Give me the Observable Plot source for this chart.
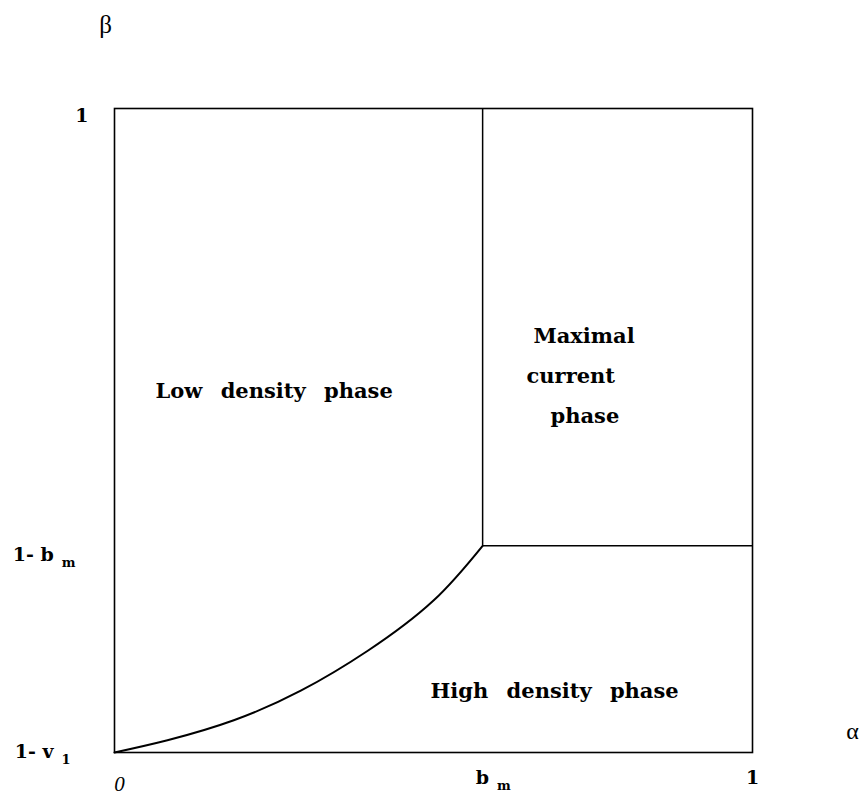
<!DOCTYPE html>
<html><head><meta charset="utf-8">
<script src="https://cdn.jsdelivr.net/npm/d3@7"></script>
<script src="https://cdn.jsdelivr.net/npm/@observablehq/plot@0.6"></script>
<style>
body{margin:0;background:#fff}
#chart svg{display:block}
g[aria-label='text'] text{word-spacing:11px}
</style>
</head><body><div id="chart"></div>
<script>
// Axis ticks (normalized α from 0 to 1, β from 1-v1 to 1)
const xTicks = [0, 0.577, 1];
const xTickLabels = ["0", "b_m", "1"];
const yTicks = [0, 0.321, 1];
const yTickLabels = ["1- v_1", "1- b_m", "1"];
// Boundary curve between low and high density phases
const curveAlpha = [0, 0.083, 0.187, 0.292, 0.397, 0.500, 0.577];
const curveBeta  = [0, 0.019, 0.050, 0.096, 0.158, 0.236, 0.321];
const phaseNames = ["Low density phase", "Maximal", "current", "phase", "High density phase"];
const axisNames = ["α", "β"];

const bm = xTicks[1], oneMinusBm = yTicks[1];
const curve = curveAlpha.map((a, i) => ({a, b: curveBeta[i]}));
const serif = "DejaVu Serif";
const lbl = {textAnchor: "start", lineAnchor: "bottom", fontSize: 21, fontWeight: "bold", fontFamily: serif, fill: "black"};

const plot = Plot.plot({
  width: 865, height: 797,
  marginLeft: 114, marginRight: 113, marginTop: 108, marginBottom: 45,
  x: {domain: [0, 1]},
  y: {domain: [0, 1]},
  style: {fontFamily: serif, background: "white", color: "black", overflow: "visible"},
  marks: [
    Plot.frame({stroke: "black", strokeWidth: 1.6}),
    Plot.ruleX([bm], {y1: oneMinusBm, y2: 1, stroke: "black", strokeWidth: 1.5}),
    Plot.ruleY([oneMinusBm], {x1: bm, x2: 1, stroke: "black", strokeWidth: 1.6}),
    Plot.line(curve, {x: "a", y: "b", curve: "natural", stroke: "black", strokeWidth: 2}),
    Plot.axisX({ticks: xTicks, tickFormat: d => xTickLabels[xTicks.indexOf(d)], tickSize: 0, tickPadding: 18,
      fontSize: 19, fontWeight: "bold", fontFamily: serif, fill: "black", label: null}),
    Plot.axisY({ticks: yTicks, tickFormat: d => yTickLabels[yTicks.indexOf(d)], tickSize: 0, tickPadding: 26,
      fontSize: 19, fontWeight: "bold", fontFamily: serif, fill: "black", label: null}),
    Plot.text([phaseNames[0]], {...lbl, x: 0.0643, y: 0.5512, text: d => d}),
    Plot.text([phaseNames[1]], {...lbl, x: 0.6567, y: 0.6351, text: d => d}),
    Plot.text([phaseNames[2]], {...lbl, x: 0.6458, y: 0.5730, text: d => d}),
    Plot.text([phaseNames[3]], {...lbl, x: 0.6834, y: 0.5124, text: d => d}),
    Plot.text([phaseNames[4]], {...lbl, x: 0.4953, y: 0.0854, text: d => d}),
    Plot.text([axisNames[1]], {x: -0.0141, y: 1.1165, text: d => d, textAnchor: "middle", lineAnchor: "bottom",
      fontSize: 25, fontFamily: "Liberation Serif", fill: "black"}),
    Plot.text([axisNames[0]], {x: 1.1567, y: 0.0217, text: d => d, textAnchor: "middle", lineAnchor: "bottom",
      fontSize: 24, fontFamily: "Liberation Serif", fill: "black"})
  ]
});
document.getElementById("chart").appendChild(plot);

// Subscripts and fine label placement
function subscript(el, dxSub, dySub) {
  const t = el.textContent;
  if (!t.includes("_")) return;
  const [base, sub] = t.split("_");
  el.textContent = base;
  const ts = document.createElementNS("http://www.w3.org/2000/svg", "tspan");
  ts.textContent = sub;
  ts.setAttribute("font-size", "13");
  ts.setAttribute("dx", dxSub);
  ts.setAttribute("dy", dySub);
  el.appendChild(ts);
}
const svg = d3.select(plot);
const yAdj = {"1": [0, 7], "1- b_m": [-13, 9], "1- v_1": [-18, -1]};
svg.selectAll("g[aria-label='y-axis tick label'] text").each(function() {
  const t = this.textContent;
  const [dx, dy] = yAdj[t] || [0, 0];
  this.setAttribute("transform", (this.getAttribute("transform") || "") + ` translate(${dx},${dy})`);
  subscript(this, 8, 6);
});
svg.selectAll("g[aria-label='x-axis tick label'] text").each(function() {
  const t = this.textContent;
  if (t === "0") {
    this.setAttribute("font-style", "italic");
    this.setAttribute("font-weight", "normal");
    this.setAttribute("font-family", "Liberation Serif");
    this.setAttribute("font-size", "21");
    this.setAttribute("transform", (this.getAttribute("transform") || "") + " translate(5,6)");
  } else if (t === "b_m") {
    this.setAttribute("text-anchor", "start");
    this.setAttribute("transform", (this.getAttribute("transform") || "") + " translate(-7,0)");
    subscript(this, 8, 6);
  }
});
</script>
</body></html>
